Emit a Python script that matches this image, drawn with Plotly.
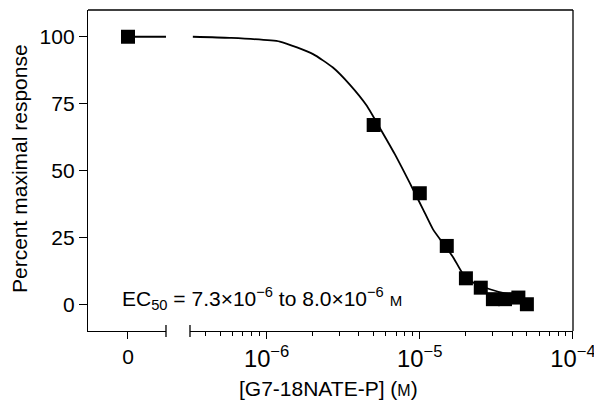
import plotly.graph_objects as go

# ---- data ----
zero_dose = [0]
zero_resp = [100]

conc = [5e-6, 1e-5, 1.5e-5, 2e-5, 2.5e-5, 3e-5, 3.6e-5, 4.4e-5, 5e-5]
resp = [67, 41.5, 21.8, 9.7, 6.2, 1.9, 1.9, 2.5, 0]

# fitted curve
curve_x = [3.30e-7, 5.73e-7, 1.22e-6, 2.01e-6, 2.71e-6, 3.48e-6, 4.51e-6, 5.31e-6,
           6.87e-6, 9.04e-6, 1.05e-5, 1.22e-5, 1.46e-5, 1.65e-5, 1.92e-5, 2.23e-5,
           2.87e-5, 3.60e-5, 4.38e-5]
curve_y = [100, 99.6, 98.2, 93.5, 88.5, 82.2, 74.2, 67.3,
           56.1, 42.9, 35.5, 28.0, 21.8, 17.6, 11.2, 8.1,
           5.6, 4.1, 3.4]

left_line_x = [0, 0.95]
left_line_y = [100, 100]

y_ticks = [0, 25, 50, 75, 100]

FONT = "Liberation Sans, Arial, Helvetica, sans-serif"
BLACK = "#000000"

fig = go.Figure()

# left (zero-dose) panel
fig.add_trace(go.Scatter(x=left_line_x, y=left_line_y, mode="lines",
                         line=dict(color=BLACK, width=1.8),
                         xaxis="x", yaxis="y", showlegend=False, hoverinfo="skip"))
fig.add_trace(go.Scatter(x=zero_dose, y=zero_resp, mode="markers",
                         marker=dict(symbol="square", size=14, color=BLACK),
                         xaxis="x", yaxis="y", showlegend=False))

# right (log) panel
fig.add_trace(go.Scatter(x=curve_x, y=curve_y, mode="lines",
                         line=dict(color=BLACK, width=1.8, shape="spline", smoothing=0.5),
                         xaxis="x2", yaxis="y", showlegend=False, hoverinfo="skip"))
fig.add_trace(go.Scatter(x=conc, y=resp, mode="markers",
                         marker=dict(symbol="square", size=14, color=BLACK),
                         xaxis="x2", yaxis="y", showlegend=False))

left_dom = [0, 0.1608]
right_dom = [0.2103, 1]

fig.update_layout(
    width=594, height=403,
    margin=dict(l=88, r=21, t=10, b=72, autoexpand=False),
    paper_bgcolor="white", plot_bgcolor="white",
    font=dict(family=FONT, size=21, color=BLACK),
    xaxis=dict(domain=left_dom, range=[-1, 0.95], type="linear",
               tickvals=[0], ticktext=["0"], ticks="outside", ticklen=7,
               tickwidth=1.2, tickcolor=BLACK, showline=True, linecolor=BLACK,
               linewidth=1.3, showgrid=False, zeroline=False, anchor="y",
               automargin=False, tickfont=dict(size=21)),
    xaxis2=dict(domain=right_dom, type="log", range=[-6.5, -4], dtick=1,
                exponentformat="power", ticks="outside", ticklen=7,
                tickwidth=1.2, tickcolor=BLACK, showline=True, linecolor=BLACK,
                linewidth=1.3, showgrid=False, zeroline=False, anchor="y",
                automargin=False, tickfont=dict(size=19),
                ticklabeloverflow="allow",
                minor=dict(ticks="outside", ticklen=4, tickwidth=1.1,
                           tickcolor=BLACK, showgrid=False)),
    yaxis=dict(range=[-10, 110], tickvals=y_ticks, ticks="outside", ticklen=8,
               tickwidth=1.2, tickcolor=BLACK, showline=True, linecolor=BLACK,
               linewidth=1.3, showgrid=False, zeroline=False, anchor="x",
               automargin=False, tickfont=dict(size=21)),
    shapes=[
        # top and right frame
        dict(type="line", xref="paper", yref="paper", x0=0, x1=1, y0=1, y1=1,
             line=dict(color=BLACK, width=1.3)),
        dict(type="line", xref="paper", yref="paper", x0=1, x1=1, y0=0, y1=1,
             line=dict(color=BLACK, width=1.3)),
        # axis break marks
        dict(type="line", xref="paper", yref="paper", x0=left_dom[1], x1=left_dom[1],
             ysizemode="pixel", yanchor=0, y0=-6, y1=6,
             line=dict(color=BLACK, width=1.3)),
        dict(type="line", xref="paper", yref="paper", x0=right_dom[0], x1=right_dom[0],
             ysizemode="pixel", yanchor=0, y0=-6, y1=6,
             line=dict(color=BLACK, width=1.3)),
    ],
    annotations=[
        dict(text="[G7-18NATE-P] (<span style='font-size:16px'>M</span>)",
             xref="paper", yref="paper", x=0.496, y=-0.18, xanchor="center",
             yanchor="middle", showarrow=False, font=dict(size=21)),
        dict(text="Percent maximal response", textangle=-90,
             xref="paper", yref="paper", x=-0.140, y=0.505, xanchor="center",
             yanchor="middle", showarrow=False, font=dict(size=21)),
        dict(text="EC<sub>50</sub> = 7.3×10<sup>−6</sup> to 8.0×10<sup>−6</sup> "
                  "<span style='font-size:15px'>M</span>",
             xref="paper", yref="y", x=0.066, y=2.2, xanchor="left",
             yanchor="middle", showarrow=False, font=dict(size=21)),
    ],
)

fig.write_html(
    "out.html",
    config={"displayModeBar": False},
    post_script="document.body.style.margin='0px';document.body.style.overflow='hidden';",
)
